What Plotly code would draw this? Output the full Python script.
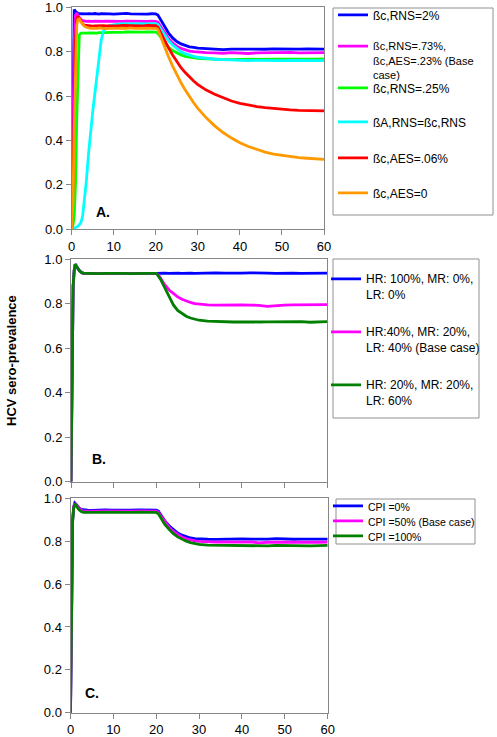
import plotly.graph_objects as go

W, H = 497, 737

# ---------------- data ----------------
tA = [0, 0.3, 0.6, 0.9, 1.2, 1.5, 1.8, 2.2, 2.6, 3,
      3.5, 4, 4.5, 5, 5.5, 6, 6.5, 7, 7.5, 8,
      9, 10, 11, 12, 13, 14, 15, 16, 17, 18, 19, 20,
      20.5, 21, 21.5, 22, 23, 24, 25, 26, 27, 28, 29, 30,
      32, 34, 36, 38, 40, 42, 44, 46, 48, 50, 52, 54, 56, 58, 60]

a_rns2 = [0, 0.62, 0.990, 0.982, 0.976, 0.973, 0.971, 0.970, 0.970, 0.969,
          0.970, 0.971, 0.969, 0.970, 0.972, 0.970, 0.969, 0.971, 0.970, 0.972,
          0.970, 0.969, 0.971, 0.970, 0.973, 0.970, 0.969, 0.971, 0.970, 0.969, 0.971, 0.970,
          0.965, 0.948, 0.930, 0.912, 0.885, 0.862, 0.846, 0.835, 0.828, 0.822, 0.819, 0.816,
          0.814, 0.811, 0.809, 0.812, 0.811, 0.813, 0.812, 0.811, 0.813, 0.812, 0.811, 0.812, 0.813, 0.812, 0.812]
a_base = [0, 0.35, 0.85, 0.965, 0.975, 0.962, 0.952, 0.945, 0.940, 0.938,
          0.937, 0.938, 0.936, 0.937, 0.938, 0.937, 0.936, 0.938, 0.937, 0.938,
          0.937, 0.936, 0.938, 0.937, 0.938, 0.937, 0.936, 0.938, 0.937, 0.936, 0.938, 0.937,
          0.933, 0.918, 0.900, 0.884, 0.860, 0.840, 0.825, 0.815, 0.808, 0.803, 0.800, 0.798,
          0.796, 0.795, 0.793, 0.796, 0.794, 0.792, 0.795, 0.796, 0.794, 0.795, 0.797, 0.795, 0.796, 0.794, 0.796]
a_rns025 = [0, 0.02, 0.06, 0.20, 0.50, 0.75, 0.875, 0.884, 0.885, 0.883,
            0.884, 0.885, 0.884, 0.886, 0.885, 0.884, 0.886, 0.887, 0.885, 0.886,
            0.887, 0.886, 0.888, 0.887, 0.889, 0.888, 0.887, 0.889, 0.888, 0.889, 0.888, 0.888,
            0.882, 0.870, 0.855, 0.842, 0.820, 0.805, 0.793, 0.785, 0.779, 0.775, 0.772, 0.770,
            0.768, 0.766, 0.765, 0.764, 0.765, 0.766, 0.764, 0.765, 0.767, 0.766, 0.765, 0.767, 0.766, 0.767, 0.768]
a_betaA = [0, 0.002, 0.004, 0.006, 0.01, 0.014, 0.02, 0.03, 0.06, 0.12,
           0.22, 0.34, 0.45, 0.53, 0.61, 0.70, 0.78, 0.85, 0.89, 0.91,
           0.918, 0.922, 0.924, 0.925, 0.926, 0.925, 0.927, 0.926, 0.925, 0.927, 0.926, 0.926,
           0.922, 0.908, 0.892, 0.876, 0.850, 0.830, 0.813, 0.800, 0.791, 0.784, 0.779, 0.775,
           0.770, 0.766, 0.764, 0.762, 0.761, 0.760, 0.761, 0.760, 0.759, 0.760, 0.761, 0.760, 0.759, 0.760, 0.760]
a_aes006 = [0, 0.20, 0.55, 0.85, 0.945, 0.960, 0.950, 0.935, 0.925, 0.920,
            0.918, 0.916, 0.917, 0.915, 0.916, 0.917, 0.915, 0.916, 0.917, 0.916,
            0.915, 0.917, 0.916, 0.918, 0.917, 0.916, 0.918, 0.917, 0.916, 0.918, 0.917, 0.917,
            0.910, 0.890, 0.872, 0.853, 0.818, 0.785, 0.755, 0.728, 0.706, 0.686, 0.668, 0.652,
            0.627, 0.608, 0.592, 0.578, 0.567, 0.559, 0.553, 0.548, 0.544, 0.541, 0.538, 0.536, 0.535, 0.534, 0.533]
a_aes0 = [0, 0.12, 0.45, 0.78, 0.92, 0.945, 0.948, 0.935, 0.922, 0.915,
          0.910, 0.907, 0.905, 0.906, 0.904, 0.905, 0.907, 0.905, 0.906, 0.904,
          0.905, 0.906, 0.904, 0.906, 0.905, 0.907, 0.905, 0.906, 0.904, 0.906, 0.905, 0.905,
          0.900, 0.875, 0.850, 0.825, 0.778, 0.735, 0.695, 0.660, 0.627, 0.597, 0.570, 0.545,
          0.502, 0.466, 0.436, 0.411, 0.390, 0.373, 0.359, 0.348, 0.339, 0.333, 0.327, 0.323, 0.320, 0.317, 0.315]

tB = [0, 0.25, 0.5, 0.75, 1, 1.5, 2, 2.5, 3,
      4, 5, 6, 8, 10, 12, 14, 16, 18, 20,
      20.5, 21, 21.5, 22, 23, 24, 25, 26, 27, 28, 29, 30,
      32, 34, 36, 38, 40, 42, 44, 46, 48, 50, 52, 54, 56, 58, 60]
b_hr100 = [0, 0.35, 0.88, 0.95, 0.978, 0.962, 0.948, 0.940, 0.937,
           0.937, 0.938, 0.936, 0.937, 0.938, 0.937, 0.936, 0.938, 0.937, 0.937,
           0.938, 0.937, 0.939, 0.938, 0.937, 0.939, 0.938, 0.937, 0.939, 0.938, 0.937, 0.938,
           0.937, 0.939, 0.938, 0.937, 0.938, 0.939, 0.937, 0.938, 0.937, 0.939, 0.938, 0.937, 0.938, 0.939, 0.938]
b_base = [0, 0.35, 0.88, 0.95, 0.978, 0.962, 0.948, 0.940, 0.937,
          0.937, 0.938, 0.936, 0.937, 0.938, 0.937, 0.936, 0.938, 0.937, 0.937,
          0.930, 0.915, 0.900, 0.885, 0.862, 0.845, 0.831, 0.820, 0.812, 0.806, 0.801, 0.798,
          0.795, 0.794, 0.795, 0.796, 0.795, 0.794, 0.793, 0.788, 0.792, 0.794, 0.795, 0.796, 0.797, 0.795, 0.796]
b_hr20 = [0, 0.35, 0.88, 0.95, 0.978, 0.962, 0.948, 0.940, 0.937,
          0.937, 0.938, 0.936, 0.937, 0.938, 0.937, 0.936, 0.938, 0.937, 0.937,
          0.925, 0.910, 0.890, 0.870, 0.830, 0.795, 0.770, 0.755, 0.744, 0.736, 0.730, 0.726,
          0.722, 0.720, 0.719, 0.718, 0.719, 0.717, 0.718, 0.719, 0.720, 0.718, 0.719, 0.720, 0.717, 0.718, 0.720]

tC = tB
c_cpi0 = [0, 0.40, 0.90, 0.96, 0.978, 0.968, 0.955, 0.948, 0.946,
          0.945, 0.944, 0.945, 0.946, 0.945, 0.944, 0.945, 0.946, 0.945, 0.945,
          0.940, 0.925, 0.910, 0.895, 0.872, 0.853, 0.838, 0.828, 0.820, 0.815, 0.812, 0.810,
          0.809, 0.808, 0.810, 0.809, 0.811, 0.810, 0.809, 0.810, 0.812, 0.810, 0.809, 0.810, 0.809, 0.810, 0.810]
c_cpi50 = [0, 0.40, 0.90, 0.96, 0.976, 0.965, 0.952, 0.944, 0.941,
           0.940, 0.939, 0.940, 0.941, 0.940, 0.939, 0.940, 0.941, 0.940, 0.940,
           0.935, 0.920, 0.905, 0.889, 0.865, 0.845, 0.830, 0.819, 0.811, 0.805, 0.801, 0.799,
           0.797, 0.796, 0.797, 0.795, 0.796, 0.797, 0.792, 0.795, 0.797, 0.796, 0.795, 0.797, 0.796, 0.795, 0.796]
c_cpi100 = [0, 0.38, 0.89, 0.955, 0.975, 0.960, 0.946, 0.938, 0.935,
            0.934, 0.933, 0.934, 0.935, 0.934, 0.933, 0.934, 0.935, 0.934, 0.934,
            0.928, 0.912, 0.895, 0.878, 0.855, 0.835, 0.820, 0.808, 0.800, 0.793, 0.788, 0.785,
            0.782, 0.781, 0.780, 0.779, 0.780, 0.778, 0.779, 0.778, 0.780, 0.779, 0.778, 0.779, 0.778, 0.779, 0.780]

names_A = ["ßc,RNS=2%", "ßc,RNS=.73%,<br>ßc,AES=.23% (Base<br>case)", "ßc,RNS=.25%",
           "ßA,RNS=ßc,RNS", "ßc,AES=.06%", "ßc,AES=0"]
names_B = ["HR: 100%, MR: 0%,<br>LR: 0%", "HR:40%, MR: 20%,<br>LR: 40% (Base case)",
           "HR: 20%, MR: 20%,<br>LR: 60%"]
names_C = ["CPI =0%", "CPI =50% (Base case)", "CPI =100%"]
x_ticks = [0, 10, 20, 30, 40, 50, 60]
y_ticks = [0.0, 0.2, 0.4, 0.6, 0.8, 1.0]

colors_A = ["#0000FF", "#FF00FF", "#00FF00", "#00FFFF", "#FF0000", "#FF9900"]
colors_BC = ["#0000FF", "#FF00FF", "#008000"]

FONT = "Liberation Sans, Arial, Helvetica, sans-serif"

def px_x(p):
    return p / W

def px_y(p):
    return 1 - p / H

fig = go.Figure()

# legend placement (text-left x, first-line centre y, font size) in pixels
leg_A = [(373, 15, 12), (373, 47, 11), (373, 88, 12), (373, 122, 12), (373, 158, 12), (373, 193, 12)]
leg_B = [(366, 279, 12), (366, 332, 12), (366, 385, 12)]
leg_C = [(368, 507, 10.5), (368, 522, 10.5), (368, 537, 10.5)]

legends = {}
k = 0

def add_series(t, ys, names, colors, leg_pos, xa, ya):
    global k
    for y, nm, col, (lx, ly, fs) in zip(ys, names, colors, leg_pos):
        k += 1
        lname = "legend" if k == 1 else f"legend{k}"
        fig.add_trace(go.Scatter(x=t, y=y, mode="lines", name=nm,
                                 line=dict(color=col, width=2.8),
                                 xaxis=xa, yaxis=ya, legend=lname))
        legends[lname] = dict(x=px_x(lx - 40), y=px_y(ly - 14.5), xanchor="left", yanchor="top",
                              bgcolor="rgba(0,0,0,0)", borderwidth=0, valign="top",
                              font=dict(family=FONT, size=fs, color="#000000"),
                              itemwidth=30, tracegroupgap=0)

add_series(tA, [a_rns2, a_base, a_rns025, a_betaA, a_aes006, a_aes0], names_A, colors_A, leg_A, "x", "y")
add_series(tB, [b_hr100, b_base, b_hr20], names_B, colors_BC, leg_B, "x2", "y2")
add_series(tC, [c_cpi0, c_cpi50, c_cpi100], names_C, colors_BC, leg_C, "x3", "y3")

axis_common = dict(showline=True, mirror=True, linecolor="#868686", linewidth=1,
                   ticks="outside", ticklen=5, tickcolor="#868686", showgrid=False,
                   zeroline=False, automargin=False, ticklabeloverflow="allow",
                   tickfont=dict(family=FONT, size=13, color="#000000"))

dom = {
    "A": ((71.7, 324), (7.3, 229.3)),
    "B": ((71.0, 327), (259.3, 481.7)),
    "C": ((70.5, 327.7), (498.3, 712.7)),
}

layout_axes = {}
for i, (key, show_x) in enumerate([("A", True), ("B", False), ("C", True)]):
    (x0, x1), (y0, y1) = dom[key]
    sfx = "" if i == 0 else str(i + 1)
    layout_axes["xaxis" + sfx] = dict(axis_common, domain=[px_x(x0), px_x(x1)], range=[0, 60],
                                      tickvals=x_ticks, showticklabels=show_x,
                                      anchor="y" + sfx)
    layout_axes["yaxis" + sfx] = dict(axis_common, domain=[px_y(y1), px_y(y0)], range=[0, 1],
                                      tickvals=y_ticks, tickformat=".1f",
                                      anchor="x" + sfx)

boxes = [(333, 8, 493, 215), (333, 259, 479, 418), (336, 499, 475, 544)]
shapes = [dict(type="rect", xref="paper", yref="paper",
               x0=px_x(a), x1=px_x(c), y0=px_y(d), y1=px_y(b),
               line=dict(color="#909090", width=1), fillcolor="rgba(0,0,0,0)", layer="below")
          for a, b, c, d in boxes]

annotations = [
    dict(text="<b>HCV sero-prevalence</b>", xref="paper", yref="paper", x=px_x(11), y=px_y(361),
         xanchor="center", yanchor="middle",
         textangle=-90, showarrow=False, font=dict(family=FONT, size=13, color="#000000")),
    dict(text="<b>A.</b>", xref="x", yref="y", x=5.3, y=0.08, xanchor="left", showarrow=False,
         font=dict(family=FONT, size=14, color="#000000")),
    dict(text="<b>B.</b>", xref="x2", yref="y2", x=4.4, y=0.10, xanchor="left", showarrow=False,
         font=dict(family=FONT, size=14, color="#000000")),
    dict(text="<b>C.</b>", xref="x3", yref="y3", x=2.9, y=0.09, xanchor="left", showarrow=False,
         font=dict(family=FONT, size=14, color="#000000")),
]

fig.update_layout(width=W, height=H, margin=dict(l=0, r=0, t=0, b=0, autoexpand=False),
                  paper_bgcolor="white", plot_bgcolor="white",
                  showlegend=True, shapes=shapes, annotations=annotations,
                  font=dict(family=FONT, size=12, color="#000000"),
                  **layout_axes, **legends)

fig.write_html("out.html", config={"displayModeBar": False},
               post_script="document.body.style.margin='0';document.body.style.overflow='hidden';")
